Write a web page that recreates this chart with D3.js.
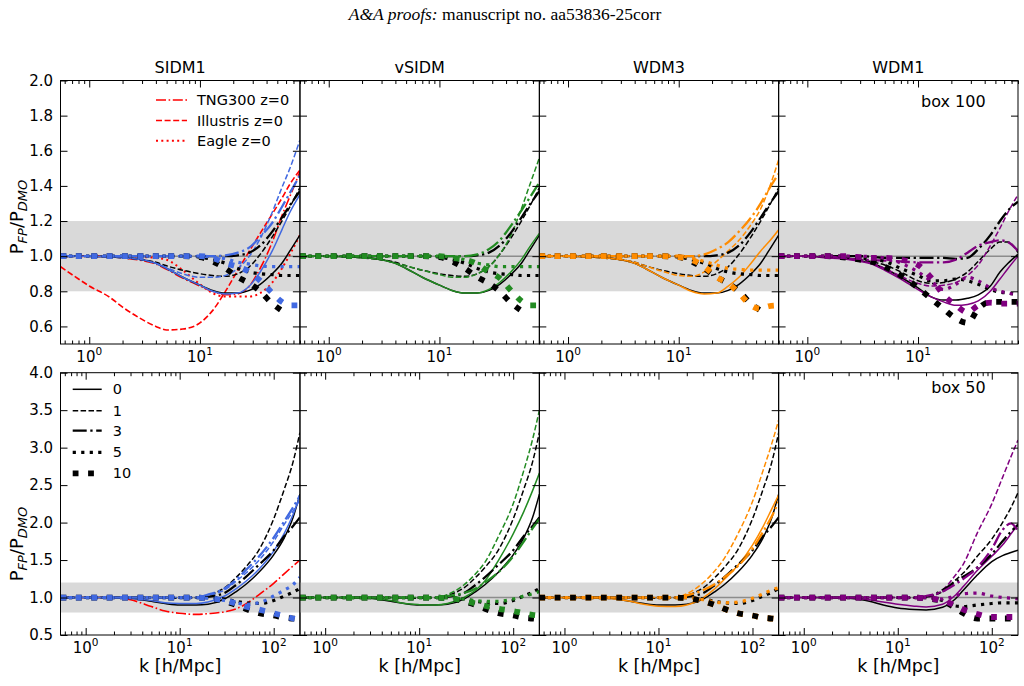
<!DOCTYPE html>
<html>
<head>
<meta charset="utf-8">
<script src="https://cdn.jsdelivr.net/npm/d3@7"></script>
<style>
  body { margin: 0; background: #fff; }
  svg { display: block; }
  text { font-family: "DejaVu Sans", sans-serif; fill: #000; }
</style>
</head>
<body>
<svg id="chart"></svg>
<script>
// ---- data ----
var panelNames = ["SIDM1", "vSIDM", "WDM3", "WDM1"];
var panelColors = ["#4169e1", "#228b22", "#ff8c00", "#800080"];
var zLabels = ["0", "1", "3", "5", "10"];
var refNames = ["TNG300 z=0", "Illustris z=0", "Eagle z=0"];
var boxLabels = ["box 100", "box 50"];

var kTop = [0.55, 0.8, 1, 1.5, 2, 3, 4, 5, 7, 10, 13, 17, 22, 28, 35, 45, 55, 65, 80];
var kBot = [0.54, 1, 2, 3, 5, 7, 10, 15, 20, 30, 40, 50, 70, 100, 130, 160, 190];

var yTicksTop = [0.6, 0.8, 1.0, 1.2, 1.4, 1.6, 1.8, 2.0];
var yTicksBot = [0.5, 1.0, 1.5, 2.0, 2.5, 3.0, 3.5, 4.0];
var xExpTop = [0, 1];
var xExpBot = [0, 1, 2];

// box 100, z = 0, 1, 3, 5, 10
var cdmTop = [
  [1, 1, 1, 0.997, 0.993, 0.98, 0.96, 0.93, 0.88, 0.835, 0.805, 0.79, 0.79, 0.805, 0.84, 0.90, 0.96, 1.03, 1.12],
  [1, 1, 1, 0.997, 0.99, 0.98, 0.965, 0.945, 0.92, 0.90, 0.89, 0.885, 0.90, 0.94, 1.01, 1.11, 1.20, 1.28, 1.39],
  [1, 1, 1, 1, 1, 1, 1, 1, 1, 1, 1, 1, 1.005, 1.02, 1.06, 1.14, 1.22, 1.29, 1.37],
  [1, 1, 1, 1, 1, 1, 1, 1, 1, 0.995, 0.98, 0.96, 0.93, 0.91, 0.90, 0.895, 0.89, 0.89, 0.89],
  [1, 1, 1, 1, 1, 1, 1, 1, 1, 0.995, 0.97, 0.93, 0.88, 0.845, 0.80, 0.73, 0.69, null, null]
];
var cdmTopW1 = [
  [1, 1, 1, 0.995, 0.99, 0.975, 0.955, 0.93, 0.88, 0.82, 0.77, 0.75, 0.75, 0.76, 0.78, 0.83, 0.91, 0.96, 1.01],
  [1, 1, 1, 0.995, 0.99, 0.98, 0.965, 0.95, 0.91, 0.86, 0.845, 0.85, 0.87, 0.91, 0.97, 1.04, 1.08, 1.08, 1.02],
  [1, 1, 1, 1, 1, 1, 0.995, 0.99, 0.99, 0.99, 0.99, 0.99, 0.985, 0.99, 1.04, 1.12, 1.20, 1.26, 1.31],
  [1, 1, 1, 1, 1, 0.99, 0.98, 0.97, 0.93, 0.89, 0.86, 0.86, 0.87, 0.86, 0.84, 0.81, 0.795, 0.79, 0.78],
  [1, 1, 1, 1, 0.995, 0.98, 0.965, 0.94, 0.89, 0.82, 0.76, 0.70, 0.645, 0.62, 0.70, 0.74, 0.74, 0.74, 0.74]
];
var sidm1Top = [
  [1, 1, 1, 0.997, 0.993, 0.98, 0.96, 0.93, 0.88, 0.835, 0.80, 0.785, 0.79, 0.83, 0.91, 1.03, 1.15, 1.25, 1.35],
  [1, 1, 1, 0.997, 0.99, 0.98, 0.96, 0.935, 0.90, 0.88, 0.88, 0.89, 0.93, 1.0, 1.10, 1.25, 1.39, 1.50, 1.66],
  [1, 1, 1, 1, 1, 1, 1, 1, 1, 1, 1, 1.005, 1.02, 1.05, 1.11, 1.19, 1.28, 1.36, 1.46],
  [1, 1, 1, 1, 1, 1, 1, 1, 1, 1, 0.995, 0.985, 0.965, 0.955, 0.945, 0.94, 0.94, 0.94, 0.94],
  [1, 1, 1, 1, 1, 1, 1, 1, 1, 1, 0.99, 0.96, 0.94, 0.91, 0.86, 0.79, 0.74, 0.72, 0.72]
];
var vsidmTop = [
  [1, 1, 1, 0.997, 0.993, 0.98, 0.96, 0.93, 0.88, 0.835, 0.805, 0.79, 0.79, 0.81, 0.85, 0.915, 0.98, 1.05, 1.13],
  [1, 1, 1, 0.997, 0.99, 0.98, 0.96, 0.945, 0.92, 0.895, 0.88, 0.88, 0.90, 0.94, 1.01, 1.13, 1.27, 1.40, 1.56],
  [1, 1, 1, 1, 1, 1, 1, 1, 1, 1, 1, 1, 1.01, 1.04, 1.09, 1.18, 1.26, 1.33, 1.42],
  [1, 1, 1, 1, 1, 1, 1, 1, 1, 1, 0.995, 0.98, 0.96, 0.95, 0.94, 0.94, 0.94, 0.94, 0.94],
  [1, 1, 1, 1, 1, 1, 1, 1, 1, 1, 0.99, 0.98, 0.955, 0.91, 0.875, 0.80, 0.745, 0.72, 0.72]
];
var wdm3Top = [
  [1, 1, 1, 0.997, 0.993, 0.98, 0.96, 0.93, 0.88, 0.835, 0.80, 0.785, 0.79, 0.83, 0.88, 0.96, 1.03, 1.08, 1.15],
  [1, 1, 1, 0.997, 0.99, 0.98, 0.965, 0.945, 0.915, 0.89, 0.885, 0.91, 0.97, 1.03, 1.09, 1.18, 1.27, 1.38, 1.55],
  [1, 1, 1, 1, 1, 1, 1, 1, 1, 1, 1, 1.01, 1.04, 1.08, 1.14, 1.22, 1.30, 1.38, 1.47],
  [1, 1, 1, 1, 1, 1, 1, 1, 1, 1, 0.99, 0.97, 0.95, 0.93, 0.925, 0.92, 0.92, 0.92, 0.92],
  [1, 1, 1, 1, 1, 1, 1, 1, 1, 0.995, 0.98, 0.94, 0.88, 0.845, 0.79, 0.72, 0.70, 0.715, 0.72]
];
var wdm1Top = [
  [1, 1, 1, 0.99, 0.985, 0.97, 0.95, 0.92, 0.87, 0.81, 0.77, 0.74, 0.72, 0.725, 0.745, 0.80, 0.87, 0.93, 1.0],
  [1, 1, 1, 0.995, 0.99, 0.975, 0.955, 0.93, 0.885, 0.845, 0.83, 0.835, 0.85, 0.89, 0.95, 1.06, 1.16, 1.25, 1.35],
  [1, 1, 1, 1, 0.99, 0.98, 0.978, 0.975, 0.97, 0.965, 0.965, 0.965, 0.98, 1.02, 1.06, 1.08, 1.09, 1.08, 1.03],
  [1, 1, 1, 1, 1, 1, 0.995, 0.99, 0.96, 0.91, 0.86, 0.81, 0.84, 0.88, 0.86, 0.82, 0.80, 0.79, 0.78],
  [1, 1, 1, 1, 1, 0.995, 0.99, 0.99, 0.98, 0.95, 0.88, 0.78, 0.72, 0.68, 0.72, 0.735, 0.73, 0.73, 0.73]
];
var tng300Top = [1, 1, 1, 0.997, 0.99, 0.975, 0.955, 0.925, 0.875, 0.83, 0.80, 0.78, 0.785, 0.83, 0.93, 1.08, 1.23, 1.34, 1.48];
var illustrisTop = [0.94, 0.87, 0.83, 0.77, 0.71, 0.64, 0.60, 0.58, 0.585, 0.62, 0.69, 0.80, 0.92, 1.03, 1.13, 1.24, 1.33, 1.41, 1.49];
var eagleTop = [1, 1, 1, 1, 1, 0.995, 0.99, 0.98, 0.92, 0.84, 0.79, 0.77, 0.77, 0.77, 0.79, 0.85, 0.93, 1.01, 1.12];

// box 50, z = 0, 1, 3, 5, 10
var cdmBot = [
  [1, 1, 1, 0.99, 0.95, 0.92, 0.90, 0.90, 0.91, 0.98, 1.08, 1.17, 1.34, 1.57, 1.80, 2.06, 2.38],
  [1, 1, 1, 1, 1, 1, 0.99, 1.0, 1.03, 1.13, 1.27, 1.40, 1.64, 2.05, 2.45, 2.80, 3.20],
  [1, 1, 1, 1, 1, 1, 1, 1, 1.01, 1.06, 1.17, 1.27, 1.44, 1.63, 1.82, 1.95, 2.07],
  [1, 1, 1, 1, 1, 1, 1, 1, 1, 0.98, 0.95, 0.93, 0.92, 0.96, 1.02, 1.07, 1.12],
  [1, 1, 1, 1, 1, 1, 1, 1, 0.99, 0.95, 0.90, 0.85, 0.79, 0.76, 0.73, 0.72, 0.71]
];
var cdmBotW1 = [
  [1, 1, 1, 0.99, 0.95, 0.90, 0.86, 0.84, 0.835, 0.87, 0.97, 1.10, 1.30, 1.48, 1.56, 1.60, 1.63],
  [1, 1, 1, 1, 1, 1, 1, 1, 1.01, 1.08, 1.22, 1.33, 1.55, 1.78, 2.0, 2.20, 2.40],
  [1, 1, 1, 1, 1, 1, 1, 1, 1.01, 1.10, 1.20, 1.28, 1.40, 1.58, 1.75, 1.88, 1.97],
  [1, 1, 1, 1, 1, 1, 1, 1, 1.0, 0.96, 0.89, 0.88, 0.90, 0.92, 0.93, 0.93, 0.93],
  [1, 1, 1, 1, 1, 1, 1, 1, 0.99, 0.95, 0.87, 0.79, 0.72, 0.72, 0.72, 0.72, 0.73]
];
var sidm1Bot = [
  [1, 1, 1, 0.99, 0.96, 0.93, 0.92, 0.92, 0.94, 1.02, 1.12, 1.21, 1.38, 1.62, 1.86, 2.10, 2.36],
  [1, 1, 1, 1, 1, 1, 1, 1, 1.03, 1.10, 1.22, 1.32, 1.50, 1.75, 1.98, 2.15, 2.30],
  [1, 1, 1, 1, 1, 1, 1, 1, 1.04, 1.12, 1.24, 1.36, 1.55, 1.80, 2.02, 2.20, 2.36],
  [1, 1, 1, 1, 1, 1, 1, 1, 0.99, 0.96, 0.93, 0.91, 0.93, 1.02, 1.10, 1.17, 1.27],
  [1, 1, 1, 1, 1, 1, 1, 1, 0.99, 0.96, 0.92, 0.88, 0.84, 0.79, 0.75, 0.72, 0.70]
];
var vsidmBot = [
  [1, 1, 1, 0.99, 0.96, 0.92, 0.905, 0.90, 0.92, 1.0, 1.10, 1.22, 1.50, 1.85, 2.15, 2.42, 2.66],
  [1, 1, 1, 1, 1, 1, 1, 1, 1.04, 1.17, 1.32, 1.47, 1.82, 2.25, 2.70, 3.10, 3.50],
  [1, 1, 1, 1, 1, 1, 1, 1, 1.02, 1.06, 1.12, 1.20, 1.34, 1.55, 1.75, 1.92, 2.05],
  [1, 1, 1, 1, 1, 1, 1, 1, 1.0, 0.98, 0.96, 0.95, 0.95, 0.98, 1.02, 1.05, 1.08],
  [1, 1, 1, 1, 1, 1, 1, 1, 0.99, 0.96, 0.92, 0.89, 0.85, 0.82, 0.79, 0.77, 0.76]
];
var wdm3Bot = [
  [1, 1, 1, 0.99, 0.95, 0.91, 0.885, 0.88, 0.90, 1.0, 1.12, 1.24, 1.43, 1.70, 1.95, 2.18, 2.37],
  [1, 1, 1, 1, 1, 1, 1, 1, 1.05, 1.20, 1.36, 1.52, 1.85, 2.28, 2.70, 3.05, 3.37],
  [1, 1, 1, 1, 1, 1, 1, 1, 1.03, 1.10, 1.18, 1.27, 1.42, 1.65, 1.88, 2.08, 2.28],
  [1, 1, 1, 1, 1, 1, 1, 1, 1.0, 0.97, 0.94, 0.93, 0.94, 0.99, 1.05, 1.10, 1.13],
  [1, 1, 1, 1, 1, 1, 1, 1, 0.99, 0.95, 0.90, 0.85, 0.79, 0.76, 0.73, 0.72, 0.71]
];
var wdm1Bot = [
  [1, 1, 1, 0.995, 0.97, 0.94, 0.91, 0.885, 0.875, 0.91, 1.02, 1.15, 1.36, 1.55, 1.70, 1.85, 1.98],
  [1, 1, 1, 1, 1, 1, 1, 0.99, 1.0, 1.10, 1.28, 1.45, 1.86, 2.25, 2.60, 2.88, 3.10],
  [1, 1, 1, 1, 1, 1, 1, 1, 1.02, 1.08, 1.17, 1.25, 1.40, 1.65, 1.90, 1.99, 1.88],
  [1, 1, 1, 1, 1, 1, 1, 1, 1.0, 0.98, 1.02, 1.05, 1.06, 1.02, 1.0, 0.99, 0.98],
  [1, 1, 1, 1, 1, 1, 1, 1, 0.99, 0.96, 0.90, 0.84, 0.78, 0.74, 0.74, 0.74, 0.74]
];
var tng300Bot = [1, 1, 1, 0.97, 0.88, 0.82, 0.79, 0.775, 0.785, 0.81, 0.85, 0.91, 1.04, 1.19, 1.32, 1.42, 1.50];

// ---- layout / styles ----
var width = 1024, height = 686;
var panelLeft = [60.5, 300, 539.3, 778.6];
var panelWidth = 239.4;

var zStyles = [
  { w: 1.5, dash: null },
  { w: 1.5, dash: "5.5,2.4" },
  { w: 2.3, dash: "14,3.6,2.3,3.6" },
  { w: 3.2, dash: "3.2,5.3" },
  { w: 5.8, dash: "5.8,9.6" }
];
var refStyles = [
  { w: 1.6, dash: "10,2.6,1.6,2.6" },
  { w: 1.6, dash: "6,2.6" },
  { w: 2, dash: "2,3.3" }
];

var rows = [
  { top: 80.5, bottom: 344, k: kTop, kDomain: [0.55, 80], yDomain: [0.5, 2.0], yTicks: yTicksTop, xExp: xExpTop,
    cdm: [cdmTop, cdmTop, cdmTop, cdmTopW1], model: [sidm1Top, vsidmTop, wdm3Top, wdm1Top],
    refs: [tng300Top, illustrisTop, eagleTop], labelY: 217 },
  { top: 372.7, bottom: 635, k: kBot, kDomain: [0.54, 190], yDomain: [0.5, 4.0], yTicks: yTicksBot, xExp: xExpBot,
    cdm: [cdmBot, cdmBot, cdmBot, cdmBotW1], model: [sidm1Bot, vsidmBot, wdm3Bot, wdm1Bot],
    refs: [tng300Bot, null, null], labelY: 544 }
];

var svg = d3.select("#chart").attr("width", width).attr("height", height);
svg.append("rect").attr("width", width).attr("height", height).attr("fill", "#fff");

// page header
var header = svg.append("text")
  .attr("x", 505).attr("y", 20)
  .attr("text-anchor", "middle")
  .style("font-family", "'Liberation Serif', serif")
  .style("font-size", "17.5px");
header.append("tspan").style("font-style", "italic").text("A&A proofs:");
header.append("tspan").text(" manuscript no. aa53836-25corr");

function drawSeries(g, x, y, k, vals, color, style) {
  var pts = k.map(function(kv, i) { return [kv, vals[i]]; });
  var line = d3.line()
    .defined(function(d) { return d[1] != null; })
    .x(function(d) { return x(d[0]); })
    .y(function(d) { return y(d[1]); })
    .curve(d3.curveMonotoneX);
  g.append("path")
    .attr("d", line(pts))
    .attr("fill", "none")
    .attr("stroke", color)
    .attr("stroke-width", style.w)
    .attr("stroke-dasharray", style.dash)
    .attr("stroke-linecap", "butt");
}

rows.forEach(function(row, r) {
  var h = row.bottom - row.top;
  var x = d3.scaleLog().domain(row.kDomain).range([0, panelWidth]);
  var y = d3.scaleLinear().domain(row.yDomain).range([h, 0]);

  var allTicks = x.ticks().filter(function(v) { return v >= row.kDomain[0] && v <= row.kDomain[1]; });
  var isMajor = function(v) { var l = Math.log10(v); return Math.abs(l - Math.round(l)) < 1e-6; };
  var majorX = allTicks.filter(isMajor);
  var minorX = allTicks.filter(function(v) { return !isMajor(v); });

  for (var c = 0; c < 4; c++) {
    var g = svg.append("g").attr("transform", "translate(" + panelLeft[c] + "," + row.top + ")");
    var clipId = "clip" + r + c;
    g.append("clipPath").attr("id", clipId)
      .append("rect").attr("width", panelWidth).attr("height", h);

    var plot = g.append("g").attr("clip-path", "url(#" + clipId + ")");
    plot.append("rect")
      .attr("x", 0).attr("width", panelWidth)
      .attr("y", y(1.2)).attr("height", y(0.8) - y(1.2))
      .attr("fill", "#d9d9d9");
    plot.append("line")
      .attr("x1", 0).attr("x2", panelWidth)
      .attr("y1", y(1)).attr("y2", y(1))
      .attr("stroke", "#8c8c8c").attr("stroke-width", 1.5);

    if (c === 0) {
      row.refs.forEach(function(ref, i) {
        if (ref) drawSeries(plot, x, y, row.k, ref, "#ff0000", refStyles[i]);
      });
    }
    // black (reference run) under the coloured model, except the z=10 squares of WDM3 box 50
    var cdmSet = row.cdm[c], modelSet = row.model[c], col = panelColors[c];
    for (var zi = 0; zi < 5; zi++) {
      var blackOnTop = (r === 1 && c === 2 && zi === 4);
      if (blackOnTop) {
        drawSeries(plot, x, y, row.k, modelSet[zi], col, zStyles[zi]);
        drawSeries(plot, x, y, row.k, cdmSet[zi], "#000", zStyles[zi]);
      } else {
        drawSeries(plot, x, y, row.k, cdmSet[zi], "#000", zStyles[zi]);
        drawSeries(plot, x, y, row.k, modelSet[zi], col, zStyles[zi]);
      }
    }

    // frame
    g.append("rect").attr("width", panelWidth).attr("height", h)
      .attr("fill", "none").attr("stroke", "#000").attr("stroke-width", 1);

    // ticks on all four sides, pointing inward
    var tickGroups = [
      g.append("g").attr("transform", "translate(0," + h + ")").call(d3.axisBottom(x).tickValues(majorX).tickSize(-7).tickSizeOuter(0).tickFormat("")),
      g.append("g").attr("transform", "translate(0," + h + ")").call(d3.axisBottom(x).tickValues(minorX).tickSize(-3.5).tickSizeOuter(0).tickFormat("")),
      g.append("g").call(d3.axisTop(x).tickValues(majorX).tickSize(-7).tickSizeOuter(0).tickFormat("")),
      g.append("g").call(d3.axisTop(x).tickValues(minorX).tickSize(-3.5).tickSizeOuter(0).tickFormat("")),
      g.append("g").attr("transform", "translate(" + panelWidth + ",0)").call(d3.axisRight(y).tickValues(row.yTicks).tickSize(-7).tickSizeOuter(0).tickFormat("")),
      g.append("g").call(d3.axisLeft(y).tickValues(row.yTicks).tickSize(-7).tickSizeOuter(0).tickPadding(7.5)
        .tickFormat(c === 0 ? d3.format(".1f") : ""))
    ];
    tickGroups.forEach(function(tg) {
      tg.select(".domain").remove();
      tg.selectAll("line").attr("stroke", "#000").attr("stroke-width", 1);
      tg.selectAll("text").style("font-size", "15px").attr("fill", "#000");
    });

    // x tick labels 10^n
    row.xExp.forEach(function(e) {
      var t = g.append("text")
        .attr("x", x(Math.pow(10, e)))
        .attr("y", h + 18)
        .attr("text-anchor", "middle")
        .style("font-size", "15px");
      t.append("tspan").text("10");
      t.append("tspan").attr("dy", -7).style("font-size", "10.5px").text(String(e));
    });

    if (r === 0) {
      g.append("text").attr("x", panelWidth / 2).attr("y", -7.5)
        .attr("text-anchor", "middle").style("font-size", "16px").text(panelNames[c]);
    } else {
      g.append("text").attr("x", panelWidth / 2).attr("y", h + 37)
        .attr("text-anchor", "middle").style("font-size", "17.5px").text("k [h/Mpc]");
    }

    if (c === 3) {
      g.append("text").attr("x", 207).attr("y", r === 0 ? 26 : 20.5)
        .attr("text-anchor", "end").style("font-size", "16px").text(boxLabels[r]);
    }
  }

  // y label
  var yl = svg.append("text")
    .attr("transform", "translate(23," + row.labelY + ") rotate(-90)")
    .attr("text-anchor", "middle")
    .style("font-size", "18px");
  yl.append("tspan").text("P");
  yl.append("tspan").attr("dy", 4).style("font-size", "13px").style("font-style", "italic").text("FP");
  yl.append("tspan").attr("dy", -4).text("/P");
  yl.append("tspan").attr("dy", 4).style("font-size", "13px").style("font-style", "italic").text("DMO");
});

// legend: reference simulations (top left panel)
var leg1 = svg.append("g");
refNames.forEach(function(name, i) {
  var ly = [100, 120.5, 140.7][i];
  leg1.append("line").attr("x1", 156).attr("x2", 187).attr("y1", ly).attr("y2", ly)
    .attr("stroke", "#ff0000").attr("stroke-width", refStyles[i].w).attr("stroke-dasharray", refStyles[i].dash);
  leg1.append("text").attr("x", 197).attr("y", ly + 5).style("font-size", "14.5px").text(name);
});

// legend: redshifts (bottom left panel)
var leg2 = svg.append("g");
zLabels.forEach(function(name, i) {
  var ly = [389.3, 410.7, 430.7, 452.3, 473.3][i];
  leg2.append("line").attr("x1", 72.7).attr("x2", 101.7).attr("y1", ly).attr("y2", ly)
    .attr("stroke", "#000").attr("stroke-width", zStyles[i].w).attr("stroke-dasharray", zStyles[i].dash);
  leg2.append("text").attr("x", 112.7).attr("y", ly + 5).style("font-size", "14.5px").text(name);
});
</script>
</body>
</html>
